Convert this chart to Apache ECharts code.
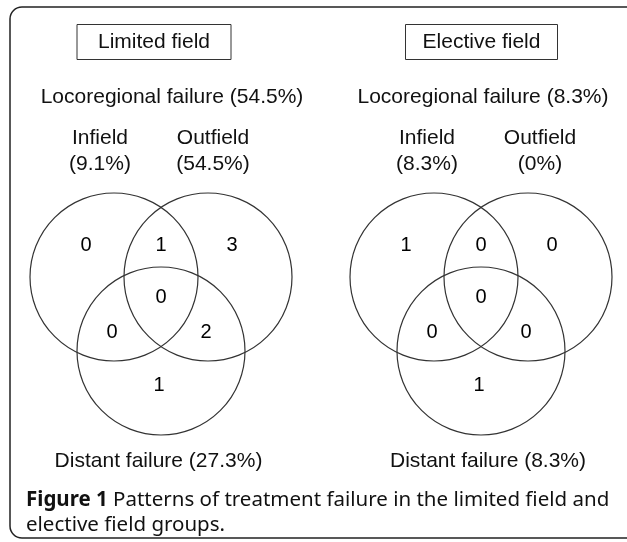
<!DOCTYPE html>
<html lang="en">
<head>
    <meta charset="UTF-8">
    <title>Patterns of treatment failure</title>
    <script src="https://cdn.jsdelivr.net/npm/echarts@6/dist/echarts.min.js"></script>
</head>
<body style="margin:0; background:#fff">
<div id="main" style="width: 627px; height: 542px"></div>
<script type="text/javascript">
    // data
    var groups = ['Limited field', 'Elective field'];
    var locoregional = [54.5, 8.3];
    var infield = [9.1, 8.3];
    var outfield = [54.5, 0];
    var distant = [27.3, 8.3];
    // region order: infield only, in+out, outfield only, all three, in+distant, out+distant, distant only
    var limitedCounts = [0, 1, 3, 0, 0, 2, 1];
    var electiveCounts = [1, 0, 0, 0, 0, 0, 1];
    var counts = [limitedCounts, electiveCounts];

    // layout (axis units = pixels, axes hidden)
    var panelX = [161, 481];
    var vennY = 277;
    var circleOffsets = [[-47, 0], [47, 0], [0, 74]];
    var radius = 84;
    var labelOffsets = [[-75, -32], [0, -32], [71, -32], [0, 20], [-49, 55], [45, 55], [-2, 108]];
    var titleX = [154, 481.5];
    var locoX = [172, 483];
    var inX = [100, 427];
    var outX = [213, 540];
    var distX = [158.5, 488];

    var font = '21px "Liberation Sans", Arial, sans-serif';
    var ink = '#111';

    function pct(v) { return '(' + v + '%)'; }

    var circleData = [];
    var countData = [];
    for (var g = 0; g < groups.length; g++) {
        circleOffsets.forEach(function (o) {
            circleData.push([panelX[g] + o[0], vennY + o[1], radius]);
        });
        labelOffsets.forEach(function (o, i) {
            countData.push([panelX[g] + o[0], vennY + o[1], counts[g][i]]);
        });
    }

    var graphic = [{
        type: 'rect',
        shape: {x: 10, y: 7, width: 640, height: 531, r: 12},
        style: {fill: 'none', stroke: '#222', lineWidth: 1.5}
    }];
    function addText(text, x, y) {
        graphic.push({
            type: 'text', x: x, y: y,
            style: {text: text, font: font, fill: ink, align: 'center', verticalAlign: 'middle'}
        });
    }
    var boxW = [154, 152];
    for (g = 0; g < groups.length; g++) {
        graphic.push({
            type: 'rect',
            shape: {x: titleX[g] - boxW[g] / 2, y: 24.5, width: boxW[g], height: 35},
            style: {fill: 'none', stroke: '#333', lineWidth: 1}
        });
        addText(groups[g], titleX[g], 42);
        addText('Locoregional failure ' + pct(locoregional[g]), locoX[g], 97);
        addText('Infield', inX[g], 138);
        addText(pct(infield[g]), inX[g], 164);
        addText('Outfield', outX[g], 138);
        addText(pct(outfield[g]), outX[g], 164);
        addText('Distant failure ' + pct(distant[g]), distX[g], 461);
    }
    graphic.push({
        type: 'text', x: 26, y: 488,
        style: {
            text: '{b|Figure 1} Patterns of treatment failure in the limited field and\nelective field groups.',
            font: '20.5px "Noto Sans", sans-serif',
            fill: ink,
            lineHeight: 25,
            rich: {b: {fontWeight: 'bold', fontSize: 20.5, fontFamily: 'Noto Sans', fill: ink}}
        }
    });

    var myChart = echarts.init(document.getElementById('main'));
    var option = {
        animation: false,
        backgroundColor: '#fff',
        grid: {left: 0, right: 0, top: 0, bottom: 0},
        xAxis: {type: 'value', min: 0, max: 627, show: false},
        yAxis: {type: 'value', min: 0, max: 542, inverse: true, show: false},
        graphic: graphic,
        series: [
            {
                type: 'custom',
                data: circleData,
                silent: true,
                renderItem: function (params, api) {
                    var c = api.coord([api.value(0), api.value(1)]);
                    var r = api.size([api.value(2), 0])[0];
                    return {
                        type: 'circle',
                        shape: {cx: c[0], cy: c[1], r: r},
                        style: {fill: 'none', stroke: '#333', lineWidth: 1.2}
                    };
                }
            },
            {
                type: 'scatter',
                data: countData,
                symbolSize: 1,
                silent: true,
                itemStyle: {opacity: 0},
                label: {
                    show: true,
                    position: 'inside',
                    formatter: function (p) { return p.value[2]; },
                    fontFamily: 'Liberation Sans',
                    fontSize: 20,
                    color: '#000',
                    opacity: 1
                }
            }
        ]
    };
    myChart.setOption(option);
</script>
</body>
</html>
